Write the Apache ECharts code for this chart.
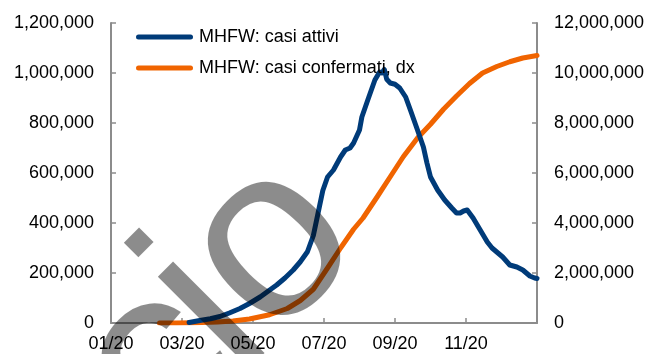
<!DOCTYPE html>
<html>
<head>
<meta charset="utf-8">
<script src="https://cdn.jsdelivr.net/npm/echarts@6/dist/echarts.min.js"></script>
<style>
  html, body { margin: 0; padding: 0; background: #fff; }
  #chart { width: 649px; height: 354px; }
</style>
</head>
<body>
<div id="chart"></div>
<script>
// Daily categories: first and last day of the series
const startDate = '2020-01-30';
const endDate = '2021-01-24';

// MHFW: active cases (left axis)
const activeDates = [
  '2020-04-05','2020-04-14','2020-04-23','2020-05-01','2020-05-09','2020-05-18','2020-05-26',
  '2020-06-04','2020-06-11','2020-06-18','2020-06-25','2020-07-02','2020-07-08','2020-07-14',
  '2020-07-19','2020-07-23','2020-07-27','2020-07-31','2020-08-05','2020-08-11','2020-08-15',
  '2020-08-19','2020-08-22','2020-08-27','2020-08-29','2020-09-03','2020-09-09','2020-09-13',
  '2020-09-15','2020-09-17','2020-09-19','2020-09-22','2020-09-26','2020-09-30','2020-10-05',
  '2020-10-09','2020-10-15','2020-10-20','2020-10-23','2020-10-26','2020-11-01','2020-11-07',
  '2020-11-13','2020-11-17','2020-11-20','2020-11-23','2020-11-26','2020-12-01','2020-12-07',
  '2020-12-13','2020-12-17','2020-12-21','2020-12-26','2021-01-01','2021-01-04','2021-01-07',
  '2021-01-12','2021-01-18','2021-01-22','2021-01-24'
];
const activeValues = [
  2000, 10000, 17000, 26000, 40000, 58000, 78000,
  104000, 128000, 152000, 180000, 212000, 245000, 285000,
  350000, 440000, 530000, 584000, 612000, 664000, 692000,
  700000, 720000, 772000, 824000, 892000, 972000, 1004000,
  1000000, 1014000, 975000, 960000, 955000, 940000, 904000,
  852000, 772000, 704000, 640000, 584000, 532000, 492000,
  460000, 440000, 440000, 448000, 452000, 420000, 372000,
  324000, 300000, 284000, 264000, 232000, 228000, 224000,
  212000, 188000, 180000, 178000
];

// MHFW: confirmed cases (right axis)
const confirmedDates = [
  '2020-03-11','2020-03-25','2020-04-09','2020-04-29','2020-05-12','2020-05-26','2020-06-12',
  '2020-06-27','2020-07-08','2020-07-19','2020-07-31','2020-08-11','2020-08-22','2020-08-30',
  '2020-09-11','2020-09-22','2020-10-03','2020-10-15','2020-10-26','2020-11-06','2020-11-17',
  '2020-11-28','2020-12-09','2020-12-21','2021-01-01','2021-01-12','2021-01-24'
];
const confirmedValues = [
  100, 600, 10000, 40000, 80000, 160000, 330000,
  580000, 900000, 1350000, 2200000, 3000000, 3750000, 4200000,
  5050000, 5850000, 6650000, 7400000, 7950000, 8550000, 9080000,
  9580000, 10000000, 10260000, 10450000, 10600000, 10700000
];

// Axis ranges and tick steps
const leftMax = 1200000, leftStep = 200000;
const rightMax = 12000000, rightStep = 2000000;
const labelEvery = 60; // one x label every 60 days

const seriesNames = ['MHFW: casi attivi', 'MHFW: casi confermati, dx'];
const blue = '#003B79';
const orange = '#F06400';
const axisGrey = '#8c8c8c';
const font = "'Liberation Sans', Arial, sans-serif";

function buildDays(from, to) {
  const out = [];
  const d = new Date(from + 'T00:00:00Z');
  const end = new Date(to + 'T00:00:00Z');
  while (d <= end) {
    out.push(d.toISOString().slice(0, 10));
    d.setUTCDate(d.getUTCDate() + 1);
  }
  return out;
}
const days = buildDays(startDate, endDate);
const zip = (xs, ys) => xs.map((x, i) => [x, ys[i]]);
const showTick = (i) => i % labelEvery === 0 && i < days.length - 1;
const fmtThousands = (v) => v.toLocaleString('en-US');

// Watermark lettering, drawn diagonally across the lower left
const markFont = "245px 'Liberation Sans', Arial, sans-serif";
const markFill = 'rgba(0,0,0,0.45)';
const markText = (text, x, y, align) => ({
  type: 'text',
  x: x,
  y: y,
  rotation: Math.PI / 4,
  z: 100,
  silent: true,
  style: { text: text, font: markFont, fill: markFill, textAlign: align, textVerticalAlign: 'middle' }
});

const chart = echarts.init(document.getElementById('chart'), null, { renderer: 'canvas' });
chart.setOption({
  animation: false,
  backgroundColor: '#fff',
  textStyle: { fontFamily: font },
  grid: { left: 111, right: 112, top: 23, bottom: 31 },
  legend: {
    data: seriesNames,
    orient: 'vertical',
    left: 131,
    top: 23,
    itemGap: 13,
    itemWidth: 57,
    itemHeight: 5,
    icon: 'path://M2.5,0H54.5A2.5,2.5,0,0,1,54.5,5H2.5A2.5,2.5,0,0,1,2.5,0Z',
    textStyle: { fontSize: 18, color: '#000', fontFamily: font, padding: [0, 0, 0, 1] }
  },
  xAxis: {
    type: 'category',
    data: days,
    boundaryGap: false,
    axisLine: { lineStyle: { color: axisGrey, width: 2 } },
    axisTick: { inside: true, length: 5, interval: showTick, lineStyle: { color: axisGrey, width: 1.5 } },
    axisLabel: {
      interval: showTick,
      margin: 12,
      fontSize: 18,
      color: '#000',
      fontFamily: font,
      formatter: (v) => v.slice(5, 7) + '/' + v.slice(2, 4)
    },
    splitLine: { show: false }
  },
  yAxis: [
    {
      type: 'value', min: 0, max: leftMax, interval: leftStep,
      axisLine: { show: true, lineStyle: { color: axisGrey, width: 2 } },
      axisTick: { show: true, inside: true, length: 5, lineStyle: { color: axisGrey, width: 1.5 } },
      axisLabel: { margin: 17, fontSize: 18, color: '#000', fontFamily: font, formatter: fmtThousands },
      splitLine: { show: false }
    },
    {
      type: 'value', min: 0, max: rightMax, interval: rightStep,
      axisLine: { show: true, lineStyle: { color: axisGrey, width: 2 } },
      axisTick: { show: true, inside: true, length: 5, lineStyle: { color: axisGrey, width: 1.5 } },
      axisLabel: { margin: 17, fontSize: 18, color: '#000', fontFamily: font, formatter: fmtThousands },
      splitLine: { show: false }
    }
  ],
  series: [
    {
      name: seriesNames[1],
      type: 'line',
      yAxisIndex: 1,
      data: zip(confirmedDates, confirmedValues),
      showSymbol: false,
      symbol: 'none',
      color: orange,
      lineStyle: { color: orange, width: 5, cap: 'round', join: 'round' },
      z: 2
    },
    {
      name: seriesNames[0],
      type: 'line',
      yAxisIndex: 0,
      data: zip(activeDates, activeValues),
      showSymbol: false,
      symbol: 'none',
      color: blue,
      lineStyle: { color: blue, width: 5, cap: 'round', join: 'round' },
      z: 3
    }
  ],
  graphic: [
    markText('c', 204, 325, 'right'),
    markText('i', 190, 332, 'left'),
    markText('o', 224, 295, 'left')
  ]
});
</script>
</body>
</html>
